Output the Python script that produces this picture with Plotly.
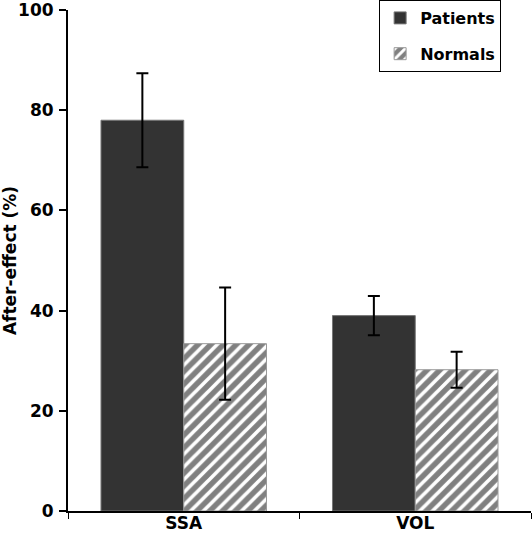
import plotly.graph_objects as go

categories = ["SSA", "VOL"]
patients = [78.0, 39.0]
patients_err = [9.4, 3.9]
normals = [33.4, 28.2]
normals_err = [11.2, 3.6]
y_ticks = [0, 20, 40, 60, 80, 100]

FONT = "DejaVu Sans, Verdana, sans-serif"

fig = go.Figure()
fig.add_trace(go.Bar(
    x=categories, y=patients, name="Patients", legendgroup="p",
    marker=dict(color="#333333", line=dict(color="#777777", width=1)),
    error_y=dict(type="data", array=patients_err, color="black", thickness=2, width=6),
))
fig.add_trace(go.Bar(
    x=categories, y=normals, name="Normals", legendgroup="n",
    marker=dict(color="#808080", line=dict(color="#999999", width=1),
                pattern=dict(shape="/", bgcolor="#808080", fgcolor="white",
                             size=9, solidity=0.4, fillmode="replace")),
    error_y=dict(type="data", array=normals_err, color="black", thickness=2, width=6),
))

fig.update_layout(
    width=532, height=541,
    margin=dict(l=68, r=1, t=10, b=30, autoexpand=False),
    paper_bgcolor="white", plot_bgcolor="white",
    barmode="group", bargap=0.285, bargroupgap=0,
    font=dict(family=FONT, size=16, color="black"),
    showlegend=True,
    legend=dict(
        x=0.672, y=1.02, xanchor="left", yanchor="top",
        bordercolor="black", borderwidth=1, bgcolor="white",
        font=dict(family=FONT, size=16, color="black", weight="bold"),
        tracegroupgap=12,
    ),
    xaxis=dict(
        showline=True, linecolor="black", linewidth=2,
        ticks="outside", ticklen=6, tickcolor="black", tickwidth=1,
        tickson="boundaries", ticklabelstandoff=-4,
        tickfont=dict(family=FONT, size=17, color="black", weight="bold"),
        showgrid=False,
    ),
    yaxis=dict(
        range=[0, 100], tickvals=y_ticks,
        showline=True, linecolor="black", linewidth=2,
        ticks="outside", ticklen=7, tickcolor="black", tickwidth=1.5,
        showgrid=False, zeroline=False, ticklabeloverflow="allow",
        ticklabelstandoff=2,
        tickfont=dict(family=FONT, size=17, color="black", weight="bold"),
        title=dict(text="After-effect (%)", standoff=7,
                   font=dict(family=FONT, size=17, color="black", weight="bold")),
    ),
)

fig.write_html("out.html", config={"displayModeBar": False},
               post_script="document.body.style.margin='0';")
